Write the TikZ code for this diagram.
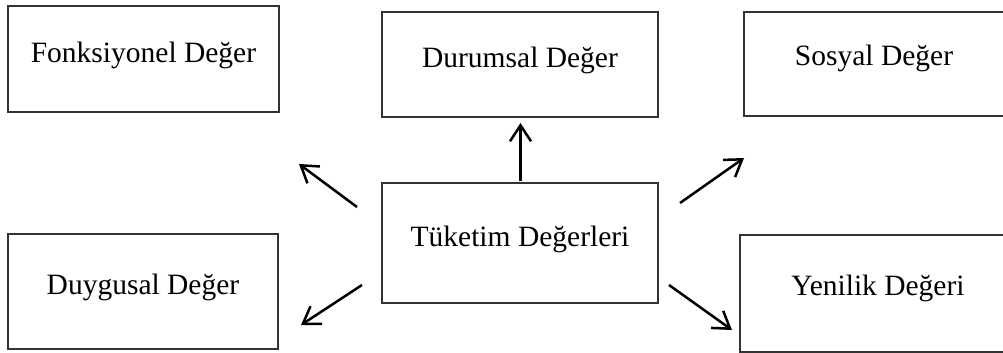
\documentclass[tikz,border=0pt]{standalone}
\usepackage{fontspec}
\setmainfont{Liberation Serif}
\usetikzlibrary{arrows.meta}
\begin{document}
\begin{tikzpicture}[x=1pt,y=-1pt,
  box/.style={draw=black!80,line width=1.5pt},
  lbl/.style={anchor=base,inner sep=0pt,font=\fontsize{29.5}{34}\selectfont},
  arr/.style={line width=2.5pt,-{Straight Barb[length=16pt,width=21pt,line width=2.5pt]}}]
\useasboundingbox (0,0) rectangle (1003,353);
% boxes
\draw[box] (8,6) rectangle (279,112);
\draw[box] (382,12) rectangle (658,117);
\draw[box] (744,12) rectangle (1006,116);
\draw[box] (382,183) rectangle (658,303);
\draw[box] (8,234) rectangle (278,349);
\draw[box] (740,235) rectangle (1006,352);
% labels
\node[lbl] (fon) at (143.5,63) {Fonksiyonel Değer};
\node[lbl] (dur) at (520,67) {Durumsal Değer};
\node[lbl] (sos) at (874,65) {Sosyal Değer};
\node[lbl] (tuk) at (520,246) {Tüketim Değerleri};
\node[lbl] (duy) at (143,294) {Duygusal Değer};
\node[lbl] (yen) at (878,295) {Yenilik Değeri};
% arrow endpoints
\coordinate (uS) at (520.5,181);  \coordinate (uE) at (520.5,123);
\coordinate (luS) at (357,207);   \coordinate (luE) at (299,164);
\coordinate (ldS) at (362,285);   \coordinate (ldE) at (301,325);
\coordinate (ruS) at (680,203);   \coordinate (ruE) at (744,158);
\coordinate (rdS) at (669,285);   \coordinate (rdE) at (732,330);
\draw[arr] (uS) -- (uE);
\draw[arr] (luS) -- (luE);
\draw[arr] (ldS) -- (ldE);
\draw[arr] (ruS) -- (ruE);
\draw[arr] (rdS) -- (rdE);
\end{tikzpicture}
\end{document}
